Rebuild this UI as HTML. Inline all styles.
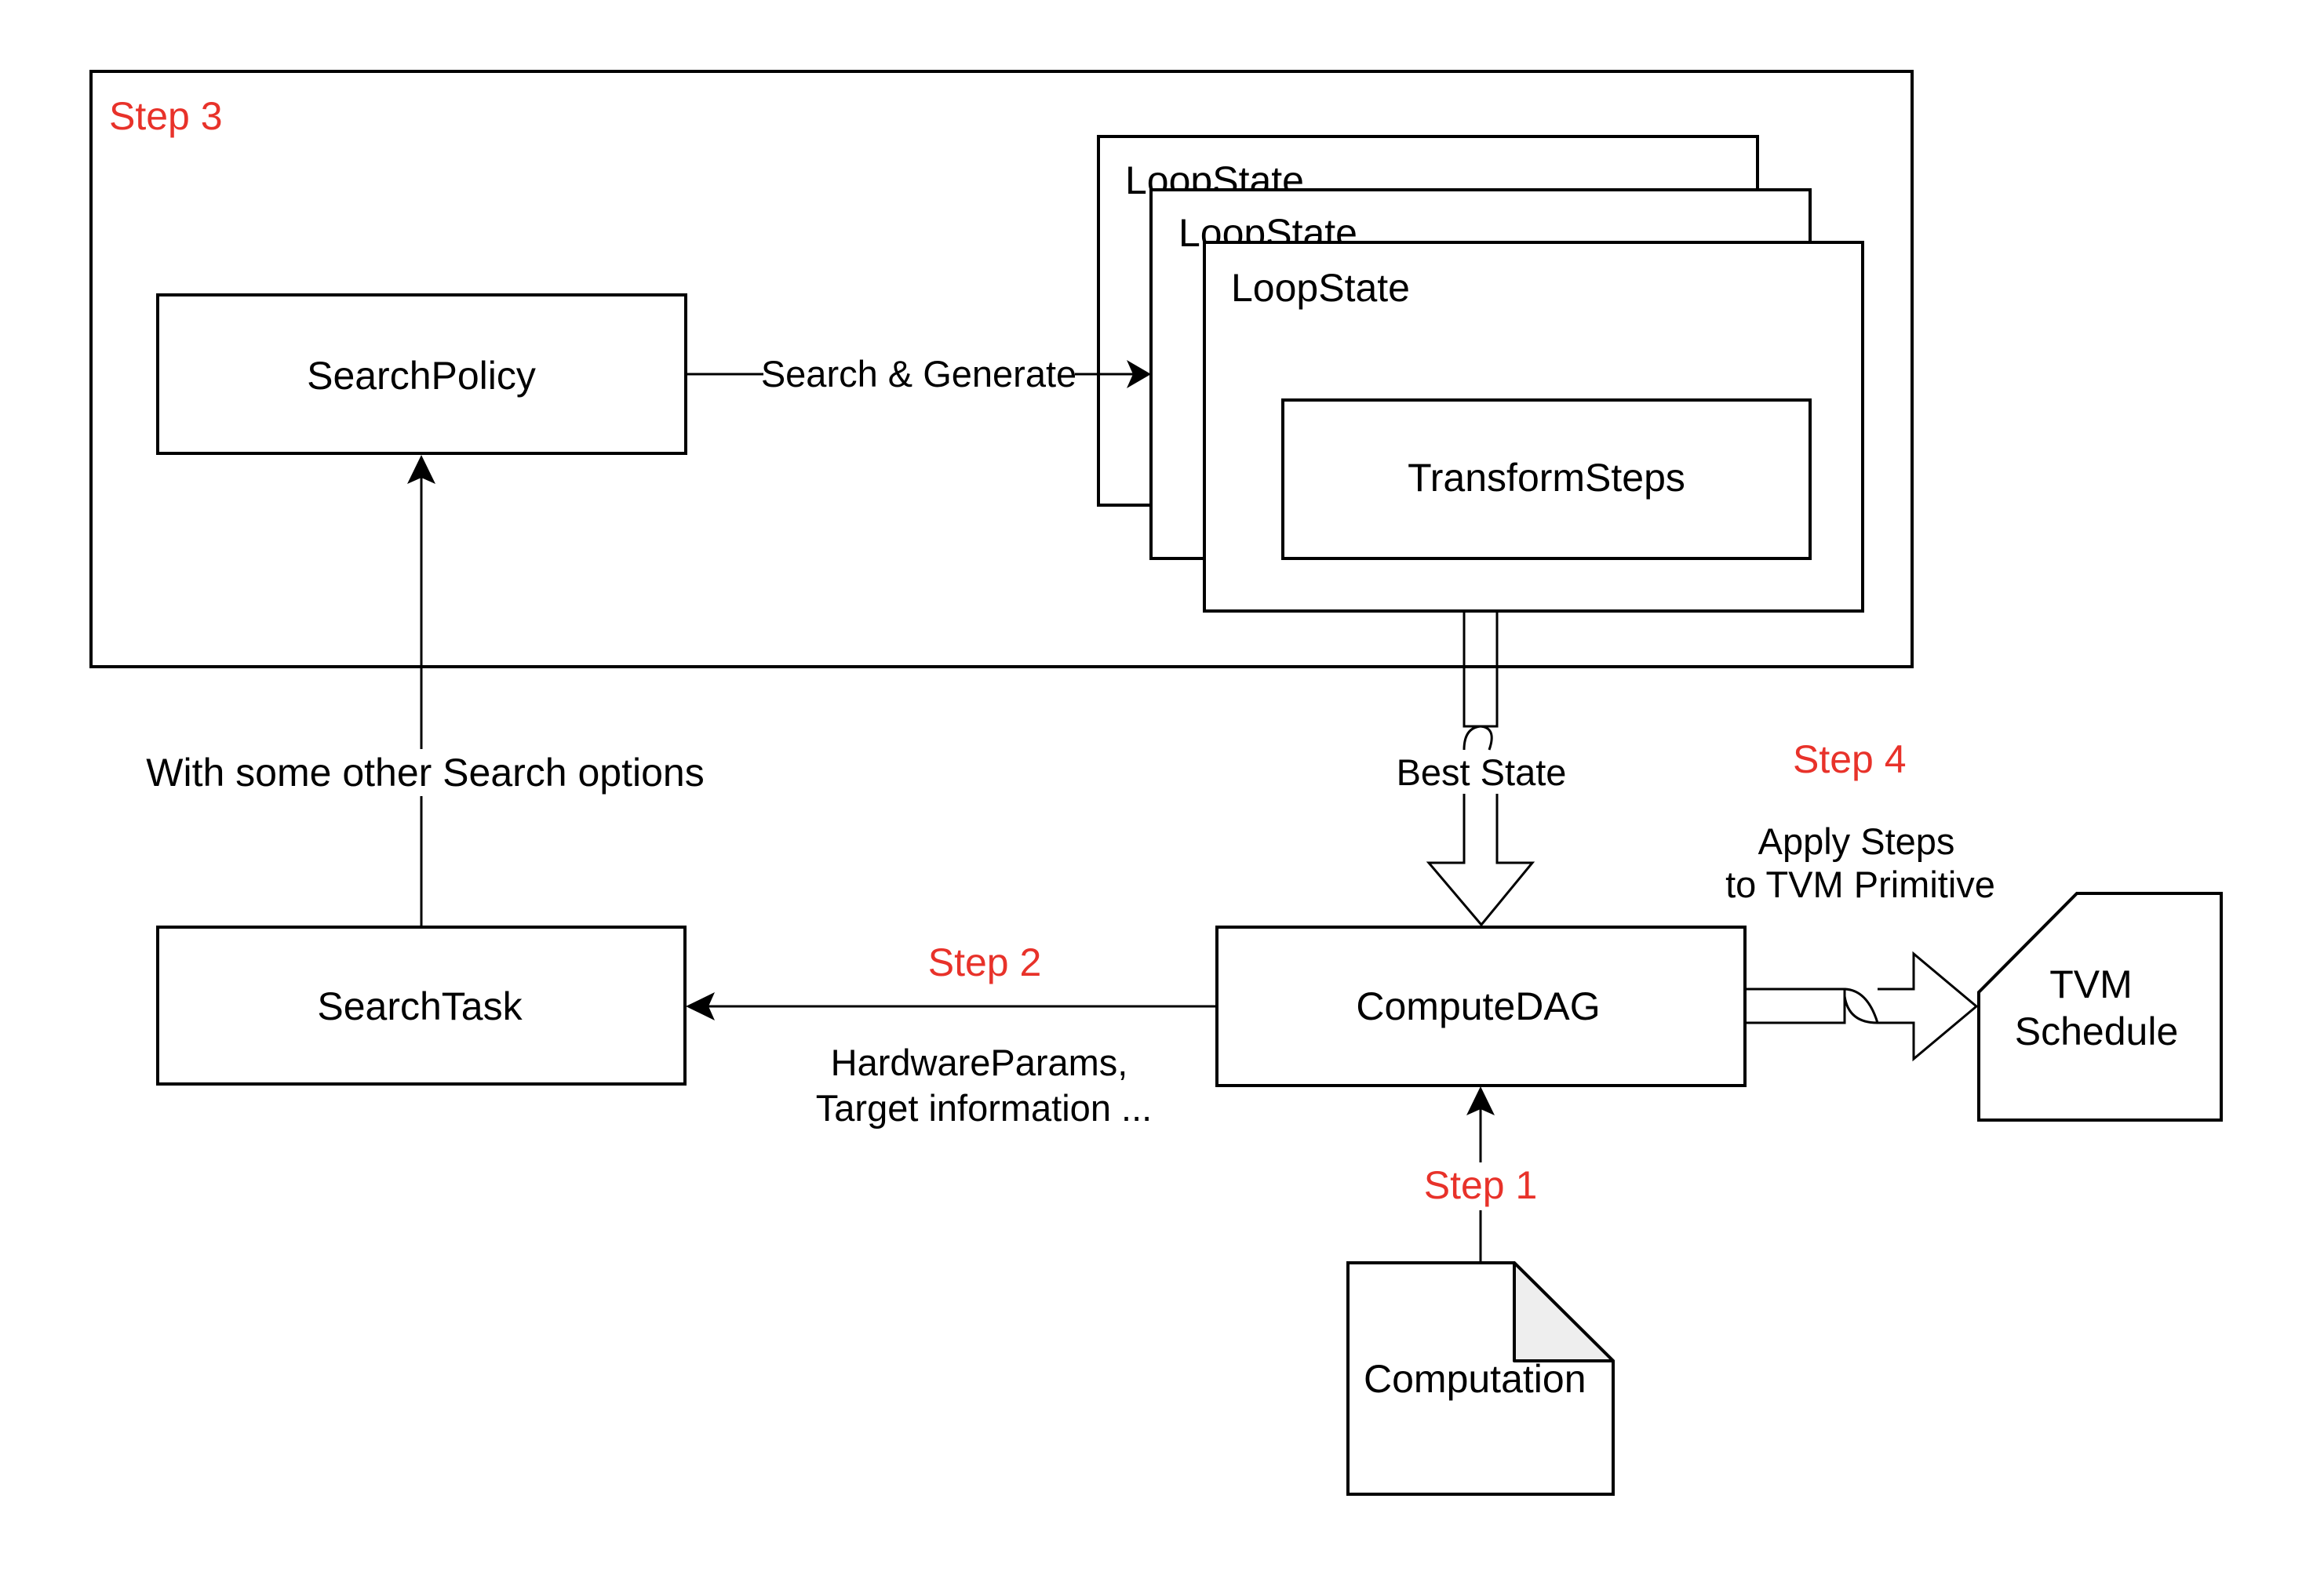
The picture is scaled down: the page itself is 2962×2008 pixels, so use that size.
<!DOCTYPE html>
<html><head><meta charset="utf-8"><style>
html,body{margin:0;padding:0;background:#fff}
svg{display:block}
text{font-family:"Liberation Sans",Arial,sans-serif;font-size:50px;fill:#000}
.r{fill:#e8322a}
.e{font-size:47px}
</style></head><body>
<svg width="2962" height="2008" viewBox="0 0 2962 2008" xmlns="http://www.w3.org/2000/svg">
<g fill="none" stroke="#000" stroke-width="4">
<rect x="116" y="91" width="2321" height="759"/>
<rect x="201" y="376" width="673" height="202" fill="#fff"/>
<rect x="1400" y="174" width="840" height="470" fill="#fff"/>
</g>
<text x="1434" y="247">LoopState</text>
<rect x="1467" y="242" width="840" height="470" fill="#fff" stroke="#000" stroke-width="4"/>
<text x="1502" y="314">LoopState</text>
<rect x="1535" y="309" width="839" height="470" fill="#fff" stroke="#000" stroke-width="4"/>
<text x="1569" y="384">LoopState</text>
<rect x="1635" y="510" width="672" height="202" fill="#fff" stroke="#000" stroke-width="4"/>
<text x="1971" y="626" text-anchor="middle">TransformSteps</text>

<text x="139" y="165" class="r">Step 3</text>
<text x="537" y="496" text-anchor="middle">SearchPolicy</text>

<!-- search & generate -->
<line x1="874" y1="477" x2="973" y2="477" stroke="#000" stroke-width="3"/>
<line x1="1370" y1="477" x2="1445" y2="477" stroke="#000" stroke-width="3"/>
<polygon points="1467,477 1436,459 1444,477 1436,495" fill="#000"/>
<text x="1171" y="493" text-anchor="middle" class="e">Search &amp; Generate</text>

<!-- search options arrow -->
<line x1="537" y1="1181" x2="537" y2="1015" stroke="#000" stroke-width="3"/>
<line x1="537" y1="955" x2="537" y2="600" stroke="#000" stroke-width="3"/>
<polygon points="537,580 519,617 537,609 555,617" fill="#000"/>
<text x="542" y="1002" text-anchor="middle">With some other Search options</text>

<!-- SearchTask -->
<rect x="201" y="1182" width="672" height="200" fill="#fff" stroke="#000" stroke-width="4"/>
<text x="535" y="1300" text-anchor="middle">SearchTask</text>

<!-- Step 2 arrow -->
<line x1="1551" y1="1283" x2="895" y2="1283" stroke="#000" stroke-width="3"/>
<polygon points="874,1283 911,1265 903,1283 911,1301" fill="#000"/>
<text x="1255" y="1244" text-anchor="middle" class="r">Step 2</text>
<text x="1248" y="1371" text-anchor="middle" class="e">HardwareParams,</text>
<text x="1254" y="1429" text-anchor="middle" class="e">Target information ...</text>

<!-- ComputeDAG -->
<rect x="1551" y="1182" width="673" height="202" fill="#fff" stroke="#000" stroke-width="4"/>
<text x="1884" y="1300" text-anchor="middle">ComputeDAG</text>

<!-- Best state arrow -->
<g fill="none" stroke="#000" stroke-width="3">
<path d="M1866,779 V926 H1908 V779"/>
<path d="M1866,956 Q1866,928 1887,926 Q1908,928 1898,956"/>
<path d="M1866,1012 V1100 H1821 L1888,1179 L1953,1100 H1908 V1012"/>
</g>
<text x="1888" y="1001" text-anchor="middle" class="e">Best State</text>

<text x="2285" y="985" class="r">Step 4</text>
<text x="2366" y="1089" text-anchor="middle" class="e">Apply Steps</text>
<text x="2371" y="1144" text-anchor="middle" class="e">to TVM Primitive</text>

<!-- step 4 arrow -->
<g fill="none" stroke="#000" stroke-width="3">
<path d="M2224,1261 H2351 V1304 H2224"/>
<path d="M2351,1261 Q2380,1262 2393,1304"/>
<path d="M2393,1261 H2439 V1216 L2519,1283 L2439,1350 V1304 H2393 Q2356,1304 2351,1270"/>
</g>

<!-- TVM schedule card -->
<polygon points="2522,1265 2647,1139 2831,1139 2831,1428 2522,1428" fill="#fff" stroke="#000" stroke-width="4"/>
<text x="2665" y="1272" text-anchor="middle">TVM</text>
<text x="2672" y="1332" text-anchor="middle">Schedule</text>

<!-- Step 1 -->
<line x1="1887" y1="1610" x2="1887" y2="1543" stroke="#000" stroke-width="3"/>
<line x1="1887" y1="1482" x2="1887" y2="1405" stroke="#000" stroke-width="3"/>
<polygon points="1887,1385 1869,1422 1887,1414 1905,1422" fill="#000"/>
<text x="1887" y="1528" text-anchor="middle" class="r">Step 1</text>

<!-- Computation doc -->
<polygon points="1718,1610 1930,1610 2056,1735 2056,1905 1718,1905" fill="#fff" stroke="#000" stroke-width="4"/>
<polygon points="1930,1610 1930,1735 2056,1735" fill="#eeeeee" stroke="#000" stroke-width="4" stroke-linejoin="round"/>
<text x="1738" y="1775">Computation</text>
</svg>
</body></html>
